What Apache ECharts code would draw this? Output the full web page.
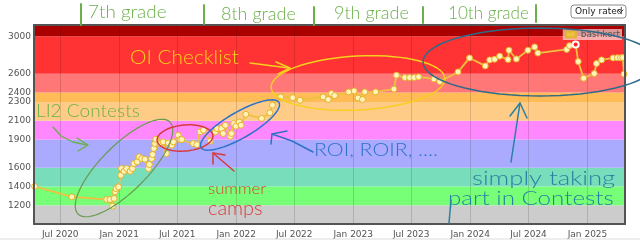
<!DOCTYPE html>
<html><head><meta charset="utf-8">
<script src="https://cdn.jsdelivr.net/npm/echarts@6/dist/echarts.min.js"></script>
<style>html,body{margin:0;padding:0;background:#fff}#c{width:640px;height:243px}</style>
</head><body><div id="c"></div>
<script>
const dates = ['2020-04-12','2020-08-06','2020-11-23','2020-12-03','2020-12-11','2020-12-16','2020-12-19','2020-12-22','2020-12-30',
'2021-01-06','2021-01-08','2021-01-16','2021-01-24','2021-02-04','2021-02-11','2021-02-16','2021-02-26','2021-03-04','2021-03-12',
'2021-03-22','2021-04-02','2021-04-05','2021-04-12','2021-04-15','2021-04-19','2021-04-22','2021-04-25','2021-05-08','2021-05-18',
'2021-05-28','2021-06-03','2021-06-14','2021-06-19','2021-07-04','2021-07-10','2021-07-15','2021-08-20','2021-08-31','2021-09-10',
'2021-09-21','2021-10-12','2021-10-28','2021-11-02','2021-11-16','2021-11-21','2021-11-28','2021-12-14','2021-12-17','2021-12-24',
'2021-12-31','2022-01-10','2022-01-16','2022-01-31','2022-03-21','2022-04-16','2022-04-24','2022-05-20','2022-06-26','2022-07-19',
'2022-09-29','2022-10-15','2022-10-25','2022-11-04','2022-12-18','2023-01-04','2023-01-16','2023-01-30','2023-02-06','2023-03-12',
'2023-05-08','2023-05-16','2023-06-11','2023-06-26','2023-07-10','2023-07-24','2023-09-10','2023-09-28','2023-11-24','2023-12-30',
'2024-02-17','2024-03-02','2024-03-17','2024-04-02','2024-04-28','2024-05-01','2024-05-24','2024-06-29','2024-07-20','2024-07-30',
'2024-10-28','2024-11-06','2024-11-25','2024-12-03','2024-12-20','2025-01-22','2025-01-29','2025-02-14','2025-03-22','2025-04-04',
'2025-04-14','2025-04-21','2025-04-25'];
const ratings = [1400,1288,1261,1261,1190,1272,1342,1378,1395,
1520,1591,1562,1591,1562,1591,1644,1662,1715,1697,
1690,1591,1634,1697,1740,1804,1857,1903,1857,1875,
1751,1864,1839,1875,1946,1900,1900,1857,1846,1981,
1999,1882,1981,2017,2017,1964,2052,1935,1964,2070,
2042,2087,2052,2169,2124,2184,2265,2354,2346,2318,
2354,2326,2390,2368,2407,2418,2343,2326,2407,2407,
2437,2585,2560,2560,2560,2567,2545,2518,2620,2769,
2684,2748,2755,2788,2752,2851,2758,2851,2886,2821,
2860,2900,2913,2730,2553,2603,2709,2748,2769,2771,
2771,2773,2598];
const maxDate = '2024-11-25';
const seriesName = 'bashkort';
const yTicks = [1200,1400,1600,1900,2100,2300,2400,2600,3000];
const xTicks = ['2020-07-01','2021-01-01','2021-07-01','2022-01-01','2022-07-01','2023-01-01','2023-07-01','2024-01-01','2024-07-01','2025-01-01'];
const monthNames = ['Jan','Feb','Mar','Apr','May','Jun','Jul','Aug','Sep','Oct','Nov','Dec'];
const bandEdges = [1000,1200,1400,1600,1900,2100,2300,2400,2600,3000,3120];
const bandColors = ['#CCCCCC','#77FF77','#77DDBB','#AAAAFF','#FF88FF','#FFCC88','#FFBB55','#FF7777','#FF3333','#AA0000'];
const xRange = ['2020-04-10','2025-04-28'];
const yRange = [1000,3120];

function parseLocal(s){const p=s.split('-').map(Number);return new Date(p[0],p[1]-1,p[2]).getTime();}
const xTickVals = xTicks.map(parseLocal);
const xMin = parseLocal(xRange[0]), xMax = parseLocal(xRange[1]);
const data = dates.map((d,i)=>{
  const item = {value:[parseLocal(d), ratings[i]]};
  if (d === maxDate) item.itemStyle = {color:'#ff2020', borderColor:'#ffffff', borderWidth:2};
  return item;
});
const bands = bandColors.map((c,i)=>[{yAxis:bandEdges[i], itemStyle:{color:c}},{yAxis:bandEdges[i+1]}]);

function ellipsePts(cx,cy,rx,ry,rotDeg){
  const a = rotDeg*Math.PI/180, pts=[];
  for(let k=0;k<=72;k++){const t=k/72*2*Math.PI;const x=rx*Math.cos(t), y=ry*Math.sin(t);
    pts.push([cx + x*Math.cos(a) + y*Math.sin(a), cy - x*Math.sin(a) + y*Math.cos(a)]);}
  return pts;
}
const hand = 'Lato, "Noto Sans", sans-serif';
function txt(s,x,y,size,color,w){
  const el = {type:'text',x:x,y:y,z:100,silent:true,style:{text:s,fill:color,font:'300 '+size+'px '+hand,textVerticalAlign:'middle'}};
  if (w) { el.style.width = w; el.style.overflow = 'none'; }
  return el;
}
function txtW(s,x,y,size,color,targetW){
  // stretch horizontally to mimic wide handwriting
  const el = txt(s,0,0,size,color);
  el.x = x; el.y = y; el.scaleX = targetW; return el;
}
function pl(pts,color,w){return {type:'polyline',z:100,silent:true,shape:{points:pts},style:{stroke:color,fill:null,lineWidth:w||1.5,lineCap:'round',lineJoin:'round'}};}
const G='#6cb04a', Y='#f7cf1f', R='#d83a3a', B='#2f73c9', T='#2a80a2', T2='#2e6b88';

const graphics = [
  {type:'rect',z:100,shape:{x:571,y:5,width:55,height:13,r:3},style:{fill:'#fff',stroke:'#8a8a8a',lineWidth:1}},
  {type:'text',z:101,x:575,y:11.5,style:{text:'Only rated',fill:'#222',font:'9px "DejaVu Sans"',textVerticalAlign:'middle'}},
  pl([[618,10],[620.5,12.5],[623,10]],'#444',1),
  {type:'line',z:100,shape:{x1:0,y1:239,x2:640,y2:239},style:{stroke:'#dddddd',lineWidth:1}},
  pl([[81,4],[81,25]],G,2), pl([[204,5],[204,24]],G,2), pl([[314,7],[314,25]],G,2), pl([[423,7],[423,23]],G,2), pl([[536,5],[536,22]],G,2),
  txtW('7th grade',88,12,18,G,1.05), txtW('8th grade',221,14,18,G,1.0), txtW('9th grade',334,13,18,G,1.0), txtW('10th grade',448,13,18,G,0.95),
  txtW('OI Checklist',130,58,20,Y,1.04),
  pl([[250,63],[289,68]],Y,1.5), pl([[276,62],[290,68],[278,74]],Y,1.5),
  pl(ellipsePts(358,83,87,27,3),Y,1.5),
  txtW('LI2 Contests',36,111,18,G,1.06),
  pl([[53,127],[61,136],[73,142],[87,145]],G,1.3), pl([[77,138],[88,145],[78,151]],G,1.3),
  pl(ellipsePts(124,168,65,23,45),'#6a9a50',1.2),
  pl(ellipsePts(185,138,28,13,5),R,1.5),
  pl([[234,171],[213,153]],R,1.5), pl([[213,164],[213,153],[225,155]],R,1.5),
  txtW('summer',208,189,16,R,1.05), txtW('camps',208,209,19,R,1.05),
  pl(ellipsePts(240,125,45,13,30),B,1.5),
  pl([[313,152],[292,141],[272,134]],B,1.5), pl([[287,131],[272,134],[271,144]],B,1.5),
  txtW('ROI, ROIR, ....',314,150,18,B,1.18),
  pl(ellipsePts(540,62,117,34,0),T2,1.5),
  pl([[511,162],[520,103]],T,1.5), pl([[510,116],[520,103],[527,118]],T,1.5),
  pl([[449,223],[451,200]],T,1.5),
  txtW('simply taking',472,179,19,T,1.35), txtW('part in Contests',448,199,19,T,1.27)
];

const axisLineStyle = {show:true, onZero:false, lineStyle:{color:'#545454', width:2}};
const chart = echarts.init(document.getElementById('c'), null, {renderer:'canvas'});
chart.setOption({
  animation:false,
  grid:{left:34,right:15,top:25,bottom:19},
  legend:{data:[{name:seriesName,icon:'rect',itemStyle:{color:'#EDC240'}}],right:18,top:29,itemWidth:10,itemHeight:6,itemGap:3,
    textStyle:{fontSize:9,color:'#545454',fontFamily:'DejaVu Sans'},backgroundColor:'rgba(255,255,255,0.6)',padding:[1,2,1,2],z:50},
  xAxis:[
    {type:'value',min:xMin,max:xMax,z:10,axisLine:axisLineStyle,axisTick:{show:false},splitLine:{show:false},
     axisLabel:{customValues:xTickVals,color:'#545454',fontSize:9,fontFamily:'DejaVu Sans',margin:6,
       formatter:v=>{const d=new Date(v);return monthNames[d.getMonth()]+' '+d.getFullYear();}}},
    {type:'value',position:'top',min:xMin,max:xMax,z:10,axisLine:axisLineStyle,axisTick:{show:false},axisLabel:{show:false},splitLine:{show:false}}
  ],
  yAxis:[
    {type:'value',min:yRange[0],max:yRange[1],z:10,axisLine:axisLineStyle,axisTick:{show:false},splitLine:{show:false},
     axisLabel:{customValues:yTicks,color:'#545454',fontSize:9,fontFamily:'DejaVu Sans',margin:3,formatter:v=>String(v)}},
    {type:'value',position:'right',min:yRange[0],max:yRange[1],z:10,axisLine:axisLineStyle,axisTick:{show:false},axisLabel:{show:false},splitLine:{show:false}}
  ],
  series:[
    {type:'line',name:'bands',data:[],z:1,silent:true,
     markArea:{silent:true,data:bands},
     markLine:{silent:true,symbol:['none','none'],label:{show:false},lineStyle:{color:'rgba(0,0,0,0.14)',type:'solid',width:1},
       data:xTickVals.map(v=>({xAxis:v}))}},
    {type:'line',name:seriesName,data:data,z:5,symbol:'circle',symbolSize:6,showAllSymbol:true,
     lineStyle:{color:'#EDC240',width:1.8},itemStyle:{color:'#FFF3B8',borderColor:'#E3B22E',borderWidth:1}}
  ],
  graphic:graphics
});
</script></body></html>
